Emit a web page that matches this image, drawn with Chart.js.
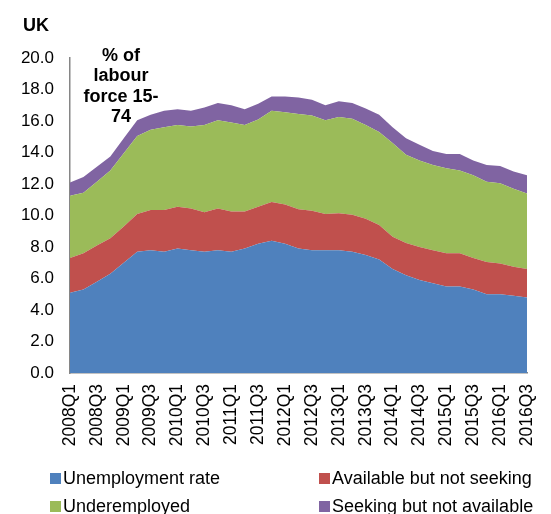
<!DOCTYPE html>
<html>
<head>
<meta charset="utf-8">
<script src="https://cdn.jsdelivr.net/npm/chart.js@4/dist/chart.umd.min.js"></script>
<style>
  html, body { margin: 0; padding: 0; background: #fff; }
  #wrap { width: 551px; height: 514px; position: relative; }
</style>
</head>
<body>
<div id="wrap"><canvas id="chart"></canvas></div>
<script>
// quarters 2008Q1 .. 2016Q3
const quarters = [];
for (let y = 2008; y <= 2016; y++) {
    for (let q = 1; q <= 4; q++) {
        if (y === 2016 && q > 3) break;
        quarters.push(y + 'Q' + q);
    }
}

const unemploymentRate = [5.1, 5.3, 5.8, 6.3, 7.0, 7.7, 7.8, 7.7, 7.9, 7.8, 7.7, 7.8, 7.7, 7.9, 8.2, 8.4, 8.2, 7.9,
    7.8, 7.8, 7.8, 7.7, 7.5, 7.2, 6.6, 6.2, 5.9, 5.7, 5.5, 5.5, 5.3, 5.0, 5.0, 4.9, 4.8];
const availableNotSeeking = [2.2, 2.3, 2.3, 2.25, 2.3, 2.4, 2.55, 2.65, 2.65, 2.65, 2.5, 2.65, 2.55, 2.35, 2.35, 2.45, 2.5, 2.5,
    2.5, 2.3, 2.35, 2.35, 2.3, 2.2, 2.05, 2.05, 2.1, 2.1, 2.1, 2.1, 2.0, 2.05, 1.95, 1.85, 1.8];
const underemployed = [3.95, 3.85, 4.05, 4.3, 4.65, 4.95, 5.1, 5.25, 5.2, 5.2, 5.55, 5.6, 5.65, 5.5, 5.55, 5.8, 5.85, 6.05,
    6.05, 5.95, 6.1, 6.1, 5.95, 5.9, 5.95, 5.6, 5.5, 5.4, 5.4, 5.25, 5.25, 5.1, 5.1, 4.95, 4.8];
const seekingNotAvailable = [0.85, 1.0, 0.95, 0.9, 0.95, 1.0, 0.95, 1.05, 1.0, 1.0, 1.1, 1.1, 1.1, 1.0, 1.0, 0.9, 1.0, 1.05,
    1.0, 0.95, 1.0, 1.0, 1.05, 1.1, 1.0, 1.05, 1.0, 0.9, 0.9, 1.05, 0.95, 1.05, 1.1, 1.1, 1.15];

const seriesNames = ['Unemployment rate', 'Available but not seeking', 'Underemployed', 'Seeking but not available'];
const seriesColors = ['#4F81BD', '#C0504D', '#9BBB59', '#8064A2'];
const seriesData = [unemploymentRate, availableNotSeeking, underemployed, seekingNotAvailable];

const FONT = "'Liberation Sans', Arial, sans-serif";

// titles + 2x2 legend drawn by hand
const extrasPlugin = {
    id: 'extras',
    afterDraw(chart) {
        const ctx = chart.ctx;
        ctx.save();
        ctx.fillStyle = '#000';
        ctx.font = 'bold 18px ' + FONT;
        ctx.textBaseline = 'middle';
        ctx.textAlign = 'left';
        ctx.fillText('UK', 23, 26);

        ctx.textAlign = 'center';
        ['% of', 'labour', 'force 15-', '74'].forEach((t, i) => {
            ctx.fillText(t, 121, 56 + i * 20.5);
        });

        ctx.font = '18px ' + FONT;
        ctx.textAlign = 'left';
        const cols = [50, 319];
        const rows = [478, 506];
        seriesNames.forEach((name, i) => {
            const x = cols[i % 2];
            const y = rows[Math.floor(i / 2)];
            ctx.fillStyle = seriesColors[i];
            ctx.fillRect(x, y - 5, 11, 11);
            ctx.fillStyle = '#000';
            ctx.fillText(name, x + 13, y + 1);
        });
        ctx.restore();
    }
};

const ctx = document.getElementById('chart').getContext('2d');
new Chart(ctx, {
    type: 'line',
    data: {
        labels: quarters,
        datasets: seriesData.map((d, i) => ({
            label: seriesNames[i],
            data: d,
            backgroundColor: seriesColors[i],
            borderColor: seriesColors[i],
            borderWidth: 0,
            pointRadius: 0,
            tension: 0,
            fill: i === 0 ? 'origin' : '-1'
        }))
    },
    options: {
        responsive: true,
        maintainAspectRatio: false,
        animation: false,
        layout: { padding: { left: 0, top: 58, right: 24, bottom: 0 } },
        plugins: {
            legend: { display: false },
            tooltip: { enabled: false },
            filler: { propagate: false }
        },
        scales: {
            x: {
                offset: false,
                grid: { display: false, drawTicks: false },
                border: { color: '#868686', width: 1.5 },
                ticks: {
                    autoSkip: false,
                    minRotation: 90,
                    maxRotation: 90,
                    padding: 11,
                    color: '#000',
                    font: { family: FONT, size: 17.5 },
                    callback: function (val, idx) { return idx % 2 === 0 ? this.getLabelForValue(val) : ''; }
                },
                afterFit(axis) {
                    axis.height = 141;
                    axis.paddingLeft = 0;
                    axis.paddingRight = 0;
                }
            },
            y: {
                stacked: true,
                min: 0,
                max: 20,
                grid: { display: false, drawTicks: false },
                border: { color: '#868686', width: 1.5 },
                ticks: {
                    stepSize: 2,
                    padding: 16,
                    color: '#000',
                    font: { family: FONT, size: 17 },
                    callback: v => v.toFixed(1)
                },
                afterFit(axis) {
                    axis.width = 70;
                    axis.paddingTop = 0;
                    axis.paddingBottom = 0;
                }
            }
        }
    },
    plugins: [extrasPlugin]
});
</script>
</body>
</html>
